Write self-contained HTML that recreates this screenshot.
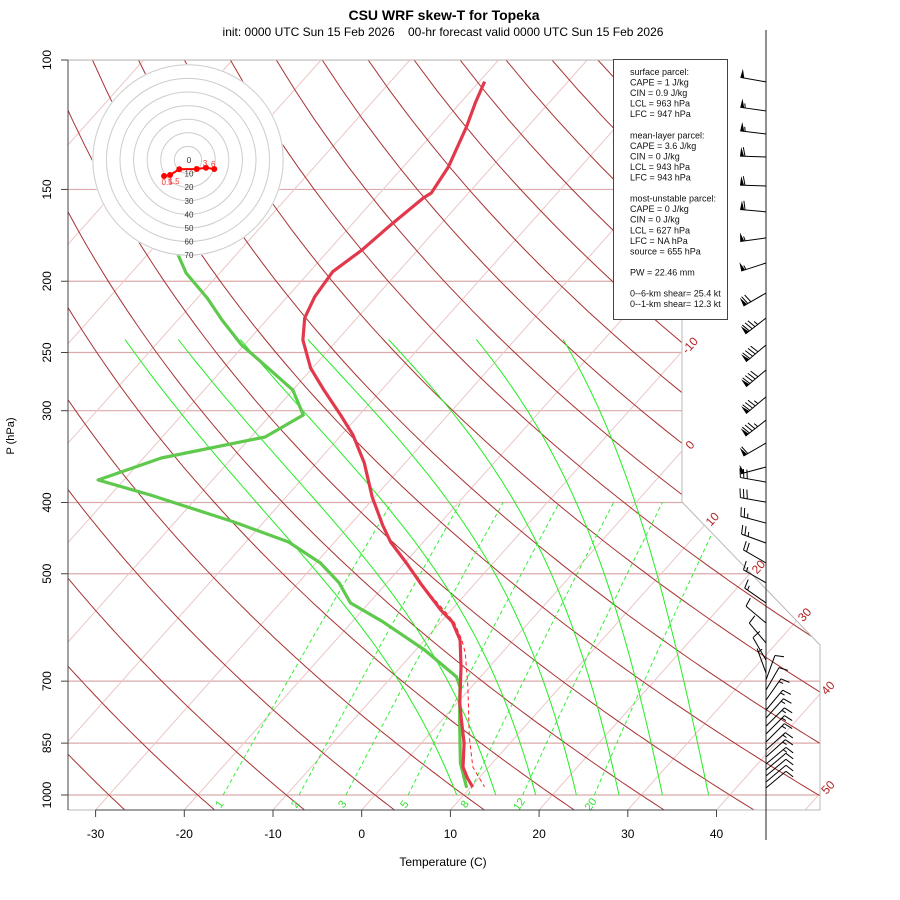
<!DOCTYPE html>
<html><head><meta charset="utf-8"><style>
html,body{margin:0;padding:0;background:#fff;}
svg{display:block;font-family:"Liberation Sans",sans-serif;}
</style></head><body>
<svg id="chart" width="900" height="900" viewBox="0 0 900 900" xmlns="http://www.w3.org/2000/svg">
<defs><clipPath id="bgclip"><polygon points="68,60 682,60 682,502 820,645 820,810 68,810"/></clipPath></defs>
<rect width="900" height="900" fill="#fff"/>
<text x="444" y="20" text-anchor="middle" font-size="14" font-weight="bold">CSU WRF skew-T for Topeka</text>
<text x="443" y="36" text-anchor="middle" font-size="12" xml:space="preserve" style="white-space:pre">init: 0000 UTC Sun 15 Feb 2026    00-hr forecast valid 0000 UTC Sun 15 Feb 2026</text>
<g id="bg" clip-path="url(#bgclip)"></g>
<g id="frame"></g>
<g id="labels"></g>
<g id="profiles"></g>
<g id="hodo"></g>
<g id="stats"></g>
<g id="axes"></g>
<g id="barbs"></g>
</svg>
<script>
// ---- data ----
var tempP = [107,114.4,123.2,139.7,151.7,154.1,166.7,181.4,194.1,210,224.4,240.4,262.5,281.2,304.1,323.7,353.4,393.1,429.2,452.6,483.4,517.6,560.1,581.5,615.3,669.4,749.6,790.8,849.5,916.1,948.1,975.2];
var tempT = [-59.4,-58.3,-56.9,-54.9,-54.2,-54.6,-55.5,-56.3,-57.4,-56.9,-55.9,-53.9,-50.2,-46.5,-42.1,-38.7,-34.6,-30.3,-26.3,-23.7,-19.8,-15.9,-11.2,-8.7,-6.0,-3.2,0.3,2.2,4.8,7.1,8.7,10.2];
var dewP = [107,150,184.2,194.9,210.8,225.9,244.2,262.5,281.2,304.1,325.8,347.9,372.8,390.7,425.1,452.6,483.4,514.4,547.9,581.5,634.9,690.8,712.8,790.8,904.6,945.2,977.6];
var dewT = [-88,-82,-76.5,-73.8,-68.9,-65.0,-60.3,-55.0,-50.0,-46.3,-48.4,-58.0,-62.9,-55.5,-43.4,-35.2,-29.5,-25.4,-22.1,-16.5,-9.0,-2.7,-1.3,2.0,6.4,8.2,9.6];
var parcelP = [517.6,581.5,615.3,641.0,712.8,834.0,916.1,974.3];
var parcelT = [-15.9,-8.5,-5.8,-4.1,-0.4,4.8,8.2,11.5];
var hodoU = [-17.6,-13.2,-6.4,6.4,13.2,19.3];
var hodoV = [-11.8,-11.0,-6.8,-6.6,-5.7,-6.6];
var windP = [107.1,117.3,126.1,135.5,148.4,160.9,174.6,188.9,207.5,224.4,244.2,264.1,287.3,309,332,357.9,375.2,399.5,426.6,454.1,483.4,514.4,547.9,583.4,621.1,655.3,682.3,697.4,720,742.9,766.5,785.8,806.2,826,847,868.5,887.8,907.6,924.7,942.1,960,978.3];
var windDir = [280,278,277,272,272,275,262,252,240,232,230,230,230,232,240,255,280,280,285,290,300,300,305,310,320,330,340,20,30,35,40,42,45,45,45,48,48,50,50,50,50,50];
var windSpd = [50,55,55,60,60,60,55,55,70,85,90,90,85,85,60,50,30,30,25,25,20,15,15,10,10,10,5,10,10,15,15,15,15,15,15,15,15,15,10,10,10,10];
var isobars = [100,150,200,250,300,400,500,700,850,1000];
var tempTicks = [-30,-20,-10,0,10,20,30,40];
var mixRatios = [1,2,3,5,8,12,20];
var satThetaW = [8,12,16,20,24,28,32];
var satBottomT = [9.2,13.6,18.1,22.7,27.5,32.4,37.6];
var satTopT = [-74,-68,-61,-53.4,-44.3,-34.4,-24.6];
var isoLabelT = [-10,0,10,20,30,40,50];
var hodoRings = [10,20,30,40,50,60,70];
var statsLines = ["surface parcel:","CAPE = 1 J/kg","CIN = 0.9 J/kg","LCL = 963 hPa","LFC = 947 hPa","","mean-layer parcel:","CAPE = 3.6 J/kg","CIN = 0 J/kg","LCL = 943 hPa","LFC = 943 hPa","","most-unstable parcel:","CAPE = 0 J/kg","CIN = 0 J/kg","LCL = 627 hPa","LFC = NA hPa","source = 655 hPa","","PW =  22.46 mm","","0--6-km shear= 25.4 kt","0--1-km shear= 12.3 kt"];

// ---- scales ----
function yP(p){return 795+735*Math.log10(p/1000);}
function xT(T,y){return 361.7+8.87*T+0.892*(810-y);}
var NS="http://www.w3.org/2000/svg";
function mk(tag,attrs,parent){var e=document.createElementNS(NS,tag);for(var k in attrs)e.setAttribute(k,attrs[k]);parent.appendChild(e);return e;}
function ptsStr(a){return a.map(function(q){return q[0].toFixed(1)+","+q[1].toFixed(1);}).join(" ");}
var bg=document.getElementById("bg"),frame=document.getElementById("frame"),labels=document.getElementById("labels"),prof=document.getElementById("profiles"),hodo=document.getElementById("hodo"),stats=document.getElementById("stats"),axes=document.getElementById("axes"),barbs=document.getElementById("barbs");
var el;
// isobars
isobars.forEach(function(p){
 el=mk("line",{x1:68,x2:820,y1:yP(p),y2:yP(p),stroke:"#dcaaaa","stroke-width":1.2},bg);
 
 
});
// isotherms
for(var T=-110;T<=60;T+=10){
 el=mk("line",{x1:xT(T,810),y1:810,x2:xT(T,60),y2:60,stroke:"#ecc6c6","stroke-width":1},bg);
 
 
}
// dry adiabats
for(var th=-40;th<=200;th+=10){
 var a=[];for(var p=1060;p>=95;p-=10){var t=(th+273.15)*Math.pow(p/1000,0.2857)-273.15;var y=yP(p);a.push([xT(t,y),y]);}
 el=mk("polyline",{points:ptsStr(a),fill:"none",stroke:"#a83232","stroke-width":1},bg);
 
 
}
// saturated adiabats
function esat(TK){return 6.112*Math.exp(17.67*(TK-273.15)/(TK-29.65));}
satThetaW.forEach(function(tw,i){
 var TK=tw+273.15,p=1000,raw=[],ptop=240,L=2.5e6,Rd=287,cp=1005;
 while(p>=ptop-0.1){
  raw.push([p,TK-273.15]);
  var es=esat(TK),rs=0.622*es/(p-es);
  var dTdp=(Rd*TK+L*rs)/(p*(cp+L*L*rs*0.622/(Rd*TK*TK)));
  TK-=dTdp*5;p-=5;
 }
 var cb=satBottomT[i]-raw[0][1],ct=satTopT[i]-raw[raw.length-1][1];
 var pl=raw[raw.length-1][0];
 var a=raw.map(function(q){var f=Math.log(q[0]/pl)/Math.log(1000/pl);var t=q[1]+cb*f+ct*(1-f);var y=yP(q[0]);return [xT(t,y),y];});
 el=mk("polyline",{points:ptsStr(a),fill:"none",stroke:"#22ee22","stroke-width":1},bg);
 
 
});
// mixing ratio lines
function tdFromR(r,p){var e=r*p/(622+r);var l=Math.log(e/6.112);return 243.5*l/(17.67-l);}
mixRatios.forEach(function(r){
 var a=[];for(var p=1000;p>=400;p-=10){var y=yP(p);a.push([xT(tdFromR(r,p),y),y]);}
 el=mk("polyline",{points:ptsStr(a),fill:"none",stroke:"#33ee33","stroke-width":1,"stroke-dasharray":"4,3"},bg);
 
 
 var x0=xT(tdFromR(r,1000),795)-4;
 el=mk("text",{x:x0,y:808,fill:"#33dd33","font-size":11,transform:"rotate(-55 "+x0+" 804)","text-anchor":"middle"},labels);
 el.textContent=r;
 
 
});
// frame
el=mk("polyline",{points:"68,60 682,60 682,502 820,645 820,810 68,810",fill:"none",stroke:"#b8b8b8","stroke-width":1},frame);


// isotherm labels
function bx(y){return y<=502?682:(y<645?682+(y-502)*138/143:820);}
isoLabelT.forEach(function(T){
 var lo=60,hi=810;for(var k=0;k<40;k++){var m=(lo+hi)/2;if(xT(T,m)-bx(m)>0)lo=m;else hi=m;}
 var x=xT(T,lo)+8,y=lo-6;
 el=mk("text",{x:x,y:y+4,fill:"#b22222","font-size":12,"text-anchor":"middle",transform:"rotate(-48 "+x+" "+y+")"},labels);
 el.textContent=T;
 
 
});
// profiles
function prof2pts(P,Tv){return P.map(function(p,i){var y=yP(p);return [xT(Tv[i],y),y];});}
el=mk("polyline",{points:ptsStr(prof2pts(dewP,dewT)),fill:"none",stroke:"#5ec94c","stroke-width":3.2,"stroke-linejoin":"round"},prof);


el=mk("polyline",{points:ptsStr(prof2pts(tempP,tempT)),fill:"none",stroke:"#e2384c","stroke-width":3.2,"stroke-linejoin":"round"},prof);


el=mk("polyline",{points:ptsStr(prof2pts(parcelP,parcelT)),fill:"none",stroke:"#ff2030","stroke-width":1,"stroke-dasharray":"4,3"},prof);


// hodograph
var hx=188,hy=160,hs=1.36;
el=mk("circle",{cx:hx,cy:hy,r:96,fill:"#fff",stroke:"none"},hodo);


hodoRings.forEach(function(s){
 el=mk("circle",{cx:hx,cy:hy,r:s*hs,fill:"none",stroke:"#cccccc","stroke-width":1},hodo);
 
 
});
[0].concat(hodoRings).forEach(function(s){
 el=mk("text",{x:hx+1,y:hy+s*hs+3,"font-size":8,"text-anchor":"middle",fill:"#333"},hodo);
 el.textContent=s;
 
 
});
var hp=hodoU.map(function(u,i){return [hx+u*hs,hy-hodoV[i]*hs];});
el=mk("polyline",{points:ptsStr(hp),fill:"none",stroke:"#ff0000","stroke-width":2},hodo);


hp.forEach(function(q){
 el=mk("circle",{cx:q[0],cy:q[1],r:3,fill:"#ff0000"},hodo);
 
 
});
[["0.5",hp[0][0]+3,hp[0][1]+9],["1.5",hp[1][0]+4,hp[1][1]+9],["3",hp[4][0]-1,hp[4][1]-2],["6",hp[5][0]-1,hp[5][1]-2]].forEach(function(l){
 el=mk("text",{x:l[1],y:l[2],"font-size":8,fill:"#ff3333","text-anchor":"middle"},hodo);
 el.textContent=l[0];
 
 
});
// stats box
el=mk("rect",{x:613.5,y:59.5,width:114,height:260,fill:"#fff",stroke:"#444","stroke-width":1},stats);


statsLines.forEach(function(s,i){
 if(!s)return;
 el=mk("text",{x:630,y:75+i*10.55,"font-size":9,fill:"#111"},stats);
 el.textContent=s;
 
 
});
// axes
el=mk("line",{x1:68,y1:60,x2:68,y2:810,stroke:"#444","stroke-width":1},axes);


isobars.forEach(function(p){
 var y=yP(p);
 el=mk("line",{x1:61,x2:68,y1:y,y2:y,stroke:"#444"},axes);
 
 
 el=mk("text",{x:51,y:y,"font-size":12,"text-anchor":"middle",transform:"rotate(-90 51 "+y+")"},axes);
 el.textContent=p;
 
 
});
el=mk("line",{x1:xT(tempTicks[0],810),y1:810,x2:xT(tempTicks[tempTicks.length-1],810),y2:810,stroke:"#444"},axes);


tempTicks.forEach(function(t){
 var x=xT(t,810);
 el=mk("line",{x1:x,x2:x,y1:810,y2:817,stroke:"#444"},axes);
 
 
 el=mk("text",{x:x,y:838,"font-size":12,"text-anchor":"middle"},axes);
 el.textContent=t;
 
 
});
el=mk("text",{x:443,y:866,"font-size":12,"text-anchor":"middle"},axes);
el.textContent="Temperature (C)";


el=mk("text",{x:14,y:436,"font-size":11,"text-anchor":"middle",transform:"rotate(-90 14 436)"},axes);
el.textContent="P (hPa)";


// wind barbs
var bxl=766;
el=mk("line",{x1:bxl,y1:30,x2:bxl,y2:840,stroke:"#222","stroke-width":1},barbs);


windP.forEach(function(p,i){
 var y=yP(p),d=windDir[i]*Math.PI/180,vx=Math.sin(d),vy=-Math.cos(d),Ls=26;
 var tx=bxl+vx*Ls,ty=y+vy*Ls,nx=-vy,ny=vx;
 var g=mk("g",{},barbs);
 
 
 mk("line",{x1:bxl,y1:y,x2:tx,y2:ty,stroke:"#000","stroke-width":1},g);
 var s=Math.round(windSpd[i]/5)*5,pos=0;
 while(s>=50){var ax=tx-vx*pos,ay=ty-vy*pos;
  mk("polygon",{points:ptsStr([[ax,ay],[ax-vx*4,ay-vy*4],[ax+nx*9-vx*1,ay+ny*9-vy*1]]),fill:"#000"},g);
  s-=50;pos+=5;}
 while(s>=10){var ax=tx-vx*pos,ay=ty-vy*pos;
  mk("line",{x1:ax,y1:ay,x2:ax+nx*9+vx*2,y2:ay+ny*9+vy*2,stroke:"#000","stroke-width":1},g);
  s-=10;pos+=3.5;}
 if(s>=5){if(pos===0)pos=3.5;var ax=tx-vx*pos,ay=ty-vy*pos;
  mk("line",{x1:ax,y1:ay,x2:ax+nx*4.5+vx*1,y2:ay+ny*4.5+vy*1,stroke:"#000","stroke-width":1},g);}
});
</script>
</body></html>
